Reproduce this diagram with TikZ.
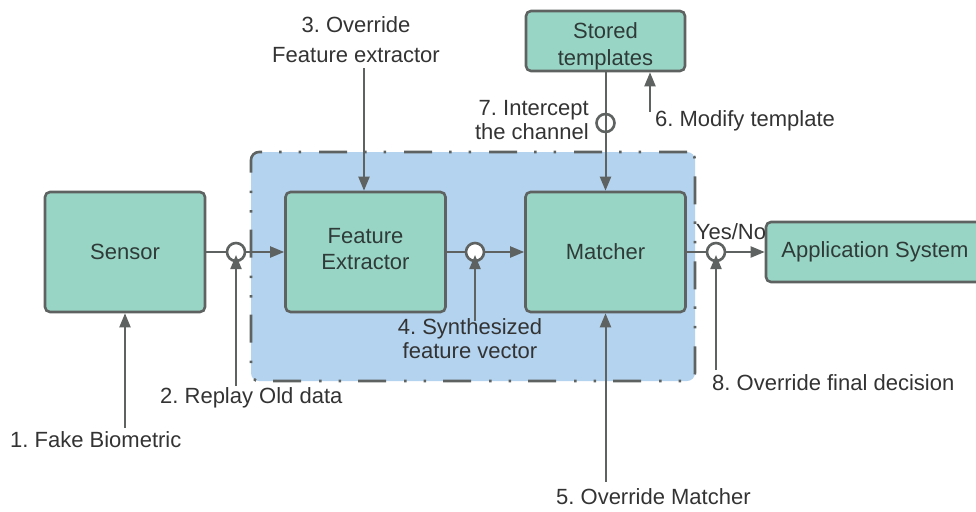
\documentclass[tikz,border=0pt]{standalone}
\usepackage{fontspec}
\setmainfont{Liberation Sans}
\usetikzlibrary{arrows.meta}
\frenchspacing
\definecolor{boxfill}{HTML}{99D5C5}
\definecolor{zonefill}{HTML}{B3D3EF}
\definecolor{edge}{HTML}{5E6261}
\definecolor{boxtext}{HTML}{2E3B38}
\definecolor{labeltext}{HTML}{333333}
\tikzset{
  txt/.style={font=\fontsize{22}{26}\selectfont},
  box/.style={txt, draw=edge, fill=boxfill, line width=2.6pt, rounded corners=5pt,
    text=boxtext, align=center, inner sep=0pt},
  boxtxt/.style={txt, text=boxtext, align=center, inner sep=0pt},
  zone/.style={draw=edge, fill=zonefill, line width=2.6pt, rounded corners=8pt,
    dash pattern=on 28pt off 18pt on 2.5pt off 17pt on 2.5pt off 17pt, inner sep=0pt},
  tap/.style={circle, draw=edge, fill=white, line width=2.6pt, minimum size=18pt, inner sep=0pt},
  ring/.style={circle, draw=edge, line width=2.6pt, minimum size=18pt, inner sep=0pt},
  lbl/.style={txt, text=labeltext, align=center, inner sep=0pt},
  link/.style={draw=edge, line width=2pt},
  flow/.style={link, -{Triangle[length=14pt,width=11pt]}},
}
\begin{document}
\begin{tikzpicture}[x=1pt,y=-1pt]
\useasboundingbox (0,0) rectangle (976,511);

% protected processing zone
\node[zone, minimum width=444pt, minimum height=229pt] (zone) at (473,266.5) {};

% processing blocks
\node[box, minimum width=160pt, minimum height=120pt] (sensor) at (125,252) {Sensor};
\node[box, minimum width=160pt, minimum height=120pt] (fe) at (365.5,252) {};
\node[boxtxt] (fetxt) at (365.5,249) {Feature\\Extractor};
\node[box, minimum width=160pt, minimum height=120pt] (matcher) at (605.5,252) {Matcher};
\node[box, minimum width=159pt, minimum height=60pt] (stored) at (605.5,41) {};
\node[boxtxt] (storedtxt) at (605.5,46.5) {Stored\\[1pt]templates};
\node[box, minimum width=218pt, minimum height=60pt] (app) at (875,252) {Application System};

% attack points on the channels
\node[tap] (c2) at (236,252) {};
\node[tap] (c4) at (475,252) {};
\node[tap] (c8) at (716,252) {};

% main data path
\draw[link] (sensor.east) -- (c2.west);
\draw[flow] (c2.east) -- (fe.west);
\draw[link] (fe.east) -- (c4.west);
\draw[flow] (c4.east) -- (matcher.west);
\draw[link] (matcher.east) -- (c8.west);
\draw[flow] (c8.east) -- (app.west);

% template channel
\draw[flow] (stored.south) -- (matcher.north);
\node[ring] (c7) at (605.5,123) {};

% attack labels
\node[lbl] (l1) at (10,440) [anchor=west] {1. Fake Biometric};
\node[lbl] (l2) at (160,398) [anchor=west] {2. Replay Old data};
\node[lbl] (l3) at (356,40) {3. Override\\[4pt]Feature extractor};
\node[lbl] (l4) at (470,339) {4. Synthesized\\[-2pt]feature vector};
\node[lbl] (l5) at (556,497) [anchor=west] {5. Override Matcher};
\node[lbl] (l6) at (655,121) [anchor=west] {6. Modify template};
\node[lbl] (l7) at (589,120) [anchor=east, align=right] {7. Intercept\\[-2pt]the channel};
\node[lbl] (l8) at (712,383) [anchor=west] {8. Override final decision};
\node[lbl] (yn) at (731,232) {Yes/No};

% attack arrows
\coordinate (a1) at (125,428);
\coordinate (a2) at (236,386);
\coordinate (a3) at (364,68);
\coordinate (a4) at (475,321);
\coordinate (a5) at (605.5,482);
\coordinate (a6) at (650,112);
\coordinate (a8) at (716,370);
\draw[flow] (a1) -- (sensor.south);
\draw[flow, shorten >=3pt] (a2) -- (c2.center);
\draw[flow] (a3) -- (a3 |- fe.north);
\draw[flow, shorten >=3pt] (a4) -- (c4.center);
\draw[flow] (a5) -- (matcher.south);
\draw[flow] (a6) -- (a6 |- stored.south);
\draw[flow, shorten >=3pt] (a8) -- (c8.center);
\end{tikzpicture}
\end{document}
